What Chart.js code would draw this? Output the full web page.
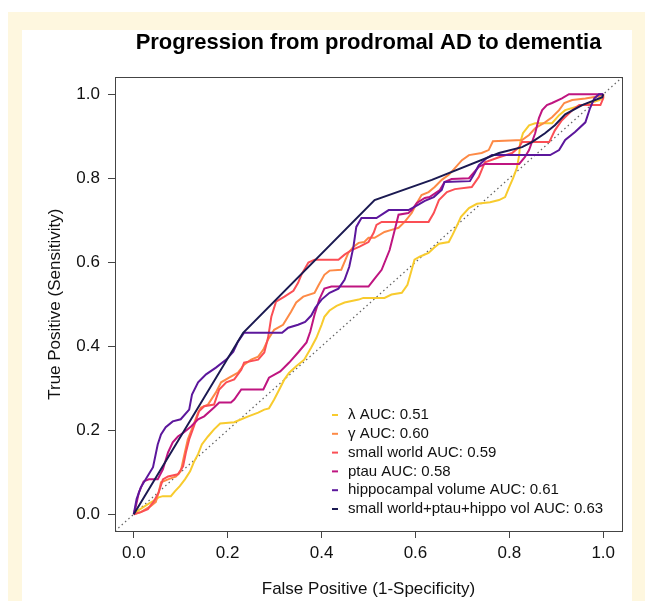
<!DOCTYPE html>
<html>
<head>
<meta charset="utf-8">
<script src="https://cdn.jsdelivr.net/npm/chart.js@4/dist/chart.umd.min.js"></script>
<style>
  html, body { margin: 0; padding: 0; background: #fff; width: 653px; height: 601px; overflow: hidden; }
  #frame { position: absolute; left: 8px; top: 12px; width: 637px; height: 589px; background: #fef7df; }
  #panel { position: absolute; left: 22px; top: 30px; width: 610px; height: 571px; background: #fff; }
  canvas { display: block; }
</style>
</head>
<body>
<div id="frame"></div>
<div id="panel"><canvas id="roc" width="610" height="571"></canvas></div>
<script>
// ROC curves: false positive rate / true positive rate
const lambdaFpr = [0,0.011,0.026,0.041,0.053,0.062,0.079,0.088,0.098,0.109,0.120,0.128,0.137,0.145,0.158,0.171,0.184,0.214,0.229,0.244,0.265,0.278,0.288,0.299,0.310,0.321,0.331,0.346,0.363,0.378,0.389,0.400,0.406,0.417,0.432,0.449,0.479,0.489,0.534,0.549,0.571,0.583,0.592,0.598,0.609,0.628,0.639,0.650,0.671,0.679,0.688,0.697,0.714,0.731,0.759,0.778,0.791,0.799,0.808,0.816,0.821,0.823,0.829,0.842,0.855,0.891,0.906,0.919,0.940,0.962,0.992,1.0,1.0];
const lambdaTpr = [0,0.010,0.021,0.031,0.040,0.043,0.043,0.055,0.067,0.083,0.102,0.124,0.143,0.166,0.185,0.202,0.216,0.219,0.226,0.233,0.242,0.249,0.252,0.273,0.297,0.321,0.337,0.352,0.368,0.397,0.420,0.451,0.470,0.485,0.496,0.504,0.511,0.515,0.515,0.523,0.527,0.546,0.582,0.606,0.613,0.622,0.634,0.644,0.648,0.665,0.686,0.708,0.729,0.739,0.743,0.748,0.755,0.777,0.800,0.824,0.855,0.884,0.907,0.926,0.931,0.931,0.950,0.962,0.969,0.976,0.986,0.993,1.0];

const gammaFpr = [0,0.015,0.036,0.047,0.053,0.058,0.073,0.090,0.100,0.107,0.115,0.126,0.137,0.143,0.158,0.175,0.186,0.203,0.222,0.235,0.250,0.265,0.276,0.286,0.299,0.318,0.335,0.346,0.361,0.385,0.393,0.406,0.417,0.442,0.457,0.468,0.479,0.491,0.500,0.513,0.534,0.549,0.564,0.577,0.592,0.603,0.613,0.628,0.641,0.656,0.671,0.684,0.699,0.714,0.741,0.756,0.765,0.827,0.842,0.855,0.876,0.891,0.906,0.917,0.934,0.962,0.991,1];
const gammaTpr = [0,0.005,0.019,0.029,0.052,0.076,0.083,0.090,0.102,0.138,0.178,0.209,0.242,0.254,0.261,0.290,0.314,0.325,0.337,0.356,0.368,0.375,0.392,0.416,0.439,0.451,0.482,0.504,0.518,0.527,0.544,0.570,0.580,0.582,0.622,0.637,0.646,0.648,0.658,0.658,0.672,0.677,0.682,0.696,0.717,0.741,0.760,0.767,0.779,0.796,0.808,0.824,0.843,0.855,0.860,0.867,0.888,0.891,0.903,0.919,0.933,0.945,0.962,0.979,0.986,0.990,0.995,1];

const swFpr = [0,0.015,0.030,0.043,0.053,0.062,0.073,0.094,0.105,0.111,0.118,0.128,0.139,0.150,0.171,0.182,0.197,0.214,0.229,0.235,0.265,0.278,0.286,0.293,0.303,0.321,0.340,0.350,0.357,0.372,0.385,0.436,0.449,0.464,0.481,0.500,0.511,0.517,0.528,0.628,0.639,0.650,0.667,0.684,0.720,0.735,0.748,0.778,0.806,0.821,0.827,0.885,0.897,0.912,0.934,0.949,0.994,1.0,1];
const swTpr = [0,0.005,0.012,0.031,0.052,0.083,0.090,0.095,0.114,0.147,0.178,0.209,0.245,0.257,0.261,0.297,0.314,0.321,0.344,0.361,0.368,0.385,0.420,0.470,0.506,0.518,0.532,0.551,0.570,0.599,0.606,0.606,0.618,0.629,0.637,0.648,0.670,0.689,0.696,0.696,0.717,0.748,0.767,0.774,0.779,0.803,0.838,0.850,0.860,0.874,0.886,0.886,0.914,0.938,0.962,0.974,0.974,0.990,1];

const ptauFpr = [0,0.004,0.011,0.021,0.032,0.051,0.062,0.073,0.083,0.094,0.107,0.122,0.137,0.150,0.171,0.182,0.207,0.214,0.229,0.276,0.288,0.312,0.331,0.350,0.368,0.376,0.385,0.395,0.406,0.421,0.500,0.511,0.528,0.545,0.556,0.564,0.585,0.592,0.603,0.620,0.630,0.652,0.662,0.677,0.714,0.735,0.748,0.821,0.833,0.842,0.855,0.863,0.870,0.880,0.891,0.912,0.927,0.998,1];
const ptauTpr = [0,0.017,0.052,0.078,0.083,0.083,0.107,0.147,0.171,0.185,0.195,0.209,0.226,0.233,0.254,0.266,0.266,0.273,0.297,0.297,0.325,0.340,0.361,0.385,0.409,0.435,0.475,0.511,0.537,0.542,0.542,0.558,0.582,0.629,0.677,0.713,0.717,0.724,0.741,0.753,0.755,0.772,0.791,0.798,0.800,0.827,0.834,0.834,0.850,0.867,0.907,0.943,0.962,0.974,0.979,0.990,1.0,1.0,1];

const hippoFpr = [0,0.006,0.015,0.028,0.041,0.051,0.058,0.068,0.083,0.100,0.118,0.124,0.137,0.154,0.175,0.197,0.212,0.222,0.235,0.316,0.329,0.350,0.365,0.378,0.387,0.400,0.417,0.436,0.449,0.459,0.468,0.474,0.485,0.517,0.543,0.585,0.598,0.620,0.639,0.656,0.662,0.716,0.726,0.735,0.752,0.763,0.887,0.906,0.919,0.940,0.962,0.972,0.981,0.991,1.0];
const hippoTpr = [0,0.036,0.064,0.088,0.112,0.166,0.190,0.207,0.221,0.226,0.249,0.285,0.314,0.333,0.349,0.368,0.387,0.411,0.432,0.432,0.444,0.451,0.458,0.473,0.492,0.511,0.527,0.537,0.558,0.589,0.637,0.684,0.705,0.705,0.724,0.724,0.732,0.746,0.755,0.772,0.791,0.793,0.812,0.831,0.848,0.855,0.855,0.867,0.891,0.910,0.933,0.967,0.990,1.0,1.0];

const comboFpr = [0,0.233,0.513,0.635,0.778,0.827,0.848,0.876,0.897,0.919,0.955,0.998,1];
const comboTpr = [0,0.432,0.748,0.796,0.860,0.874,0.886,0.907,0.926,0.952,0.974,0.993,1];

const seriesLabels = [
  "λ AUC: 0.51",
  "γ AUC: 0.60",
  "small world AUC: 0.59",
  "ptau AUC: 0.58",
  "hippocampal volume AUC: 0.61",
  "small world+ptau+hippo vol AUC: 0.63"
];
const seriesColors = ["#f8cb2e", "#fd8a46", "#fb4f55", "#bf1580", "#5c179c", "#1b1a52"];
const seriesFpr = [lambdaFpr, gammaFpr, swFpr, ptauFpr, hippoFpr, comboFpr];
const seriesTpr = [lambdaTpr, gammaTpr, swTpr, ptauTpr, hippoTpr, comboTpr];

const tickValues = [0, 0.2, 0.4, 0.6, 0.8, 1.0];
const axisMin = -0.04, axisMax = 1.04;

const FONT = '"Liberation Sans", Arial, Helvetica, sans-serif';
const AXIS_COLOR = "#444";

function pairs(xs, ys) {
  const n = Math.min(xs.length, ys.length);
  const out = [];
  for (let i = 0; i < n; i++) out.push({x: xs[i], y: ys[i]});
  return out;
}

const datasets = seriesLabels.map((label, i) => ({
  label: label,
  data: pairs(seriesFpr[i], seriesTpr[i]),
  borderColor: seriesColors[i],
  backgroundColor: seriesColors[i],
  borderWidth: 2,
  pointRadius: 0,
  tension: 0,
  fill: false,
  order: seriesLabels.length - i
}));

// chance line across the whole plot region
datasets.push({
  label: "chance",
  data: [{x: axisMin, y: axisMin}, {x: axisMax, y: axisMax}],
  borderColor: "#666",
  borderWidth: 1.2,
  borderDash: [1.5, 3],
  pointRadius: 0,
  fill: false,
  order: 10
});

// full box around the plot + legend in the lower right
const boxAndLegend = {
  id: "boxAndLegend",
  afterDraw(chart) {
    const {ctx, chartArea: a} = chart;
    ctx.save();
    ctx.strokeStyle = AXIS_COLOR;
    ctx.lineWidth = 1;
    ctx.strokeRect(Math.round(a.left) + 0.5, Math.round(a.top) + 0.5,
                   Math.round(a.right - a.left), Math.round(a.bottom - a.top));

    const rowH = 18.8;
    const lastY = a.bottom - 22;
    const textX = a.right - 274;
    ctx.font = "15px " + FONT;
    ctx.textBaseline = "middle";
    ctx.textAlign = "left";
    seriesLabels.forEach((label, i) => {
      const y = lastY - (seriesLabels.length - 1 - i) * rowH;
      ctx.strokeStyle = seriesColors[i];
      ctx.lineWidth = 2;
      ctx.beginPath();
      ctx.moveTo(textX - 16, y);
      ctx.lineTo(textX - 10, y);
      ctx.stroke();
      ctx.fillStyle = "#111";
      ctx.fillText(label, textX, y);
    });
    ctx.restore();
  }
};

function axisOptions(titleText, isX) {
  return {
    type: "linear",
    min: axisMin,
    max: axisMax,
    afterBuildTicks: s => { s.ticks = tickValues.map(v => ({value: v})); },
    afterFit: s => { if (isX) s.height = 70; else s.width = 93; },
    grid: {
      display: true,
      drawOnChartArea: false,
      drawTicks: true,
      tickLength: 7,
      color: AXIS_COLOR
    },
    border: {display: false},
    ticks: {
      autoSkip: false,
      maxRotation: 0,
      padding: isX ? 5 : 8,
      color: "#111",
      font: {family: FONT, size: 17},
      callback: v => Number(v).toFixed(1)
    },
    title: {
      display: true,
      text: titleText,
      color: "#111",
      font: {family: FONT, size: 17},
      padding: isX ? {top: 0, bottom: 1} : {top: 23, bottom: 0}
    }
  };
}

new Chart(document.getElementById("roc"), {
  type: "line",
  data: {datasets: datasets},
  options: {
    responsive: false,
    animation: false,
    events: [],
    layout: {padding: {left: 0, right: 10, top: 0, bottom: 0}},
    scales: {
      x: axisOptions("False Positive (1-Specificity)", true),
      y: axisOptions("True Positive (Sensitivity)", false)
    },
    plugins: {
      legend: {display: false},
      tooltip: {enabled: false},
      title: {
        display: true,
        fullSize: false,
        text: "Progression from prodromal AD to dementia",
        color: "#000",
        font: {family: FONT, size: 22, weight: "bold"},
        padding: {top: 0, bottom: 21}
      }
    }
  },
  plugins: [boxAndLegend]
});
</script>
</body>
</html>
